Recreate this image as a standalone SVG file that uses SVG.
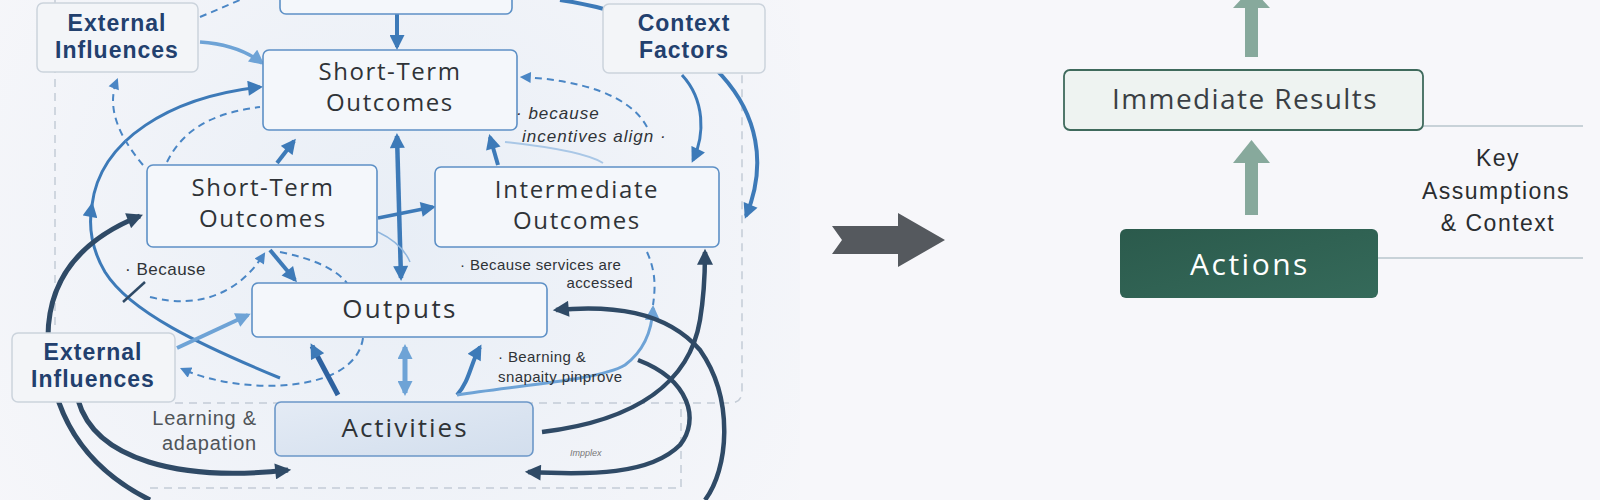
<svg xmlns="http://www.w3.org/2000/svg" width="1600" height="500" viewBox="0 0 1600 500">
<defs>
<style>
.n rect{fill:#f4f7fb;stroke:#5d90c6;stroke-width:1.6}
.g rect{fill:#f3f5f8;stroke:#cbd3dc;stroke-width:1.5}
.t{font-family:"Open Sans","Liberation Sans",sans-serif;fill:#2f3337;font-size:24px;letter-spacing:1.6px;text-anchor:middle}
.b{font-family:"Liberation Sans",Arial,sans-serif;fill:#22406e;font-size:23px;font-weight:bold;letter-spacing:1px;text-anchor:middle}
.s{font-family:"Liberation Sans",Arial,sans-serif;fill:#2f3337;font-size:16px}
.c path{fill:none}
.bl{stroke:#3d7ab8}
.lt{stroke:#6ea3d6}
.dk{stroke:#2f4a66}
.ds{stroke:#4a86c5;stroke-width:2;stroke-dasharray:7 5}
</style>
<radialGradient id="bg" cx="400" cy="240" r="520" gradientUnits="userSpaceOnUse">
<stop offset="0" stop-color="#e8eef6"/><stop offset="1" stop-color="#f7f7fa"/>
</radialGradient>
<linearGradient id="act" x1="0" y1="0" x2="1" y2="1">
<stop offset="0" stop-color="#e4ebf5"/><stop offset="1" stop-color="#d2deed"/>
</linearGradient>
<linearGradient id="actn" x1="0" y1="0" x2="1" y2="1">
<stop offset="0" stop-color="#2b5a4c"/><stop offset="1" stop-color="#356a5a"/>
</linearGradient>
<marker id="ab" viewBox="0 0 10 10" refX="8" refY="5" markerWidth="16" markerHeight="15" markerUnits="userSpaceOnUse" orient="auto-start-reverse"><path d="M0,0 L10,5 L0,10 Z" fill="#3d7ab8"/></marker>
<marker id="al" viewBox="0 0 10 10" refX="8" refY="5" markerWidth="16" markerHeight="15" markerUnits="userSpaceOnUse" orient="auto-start-reverse"><path d="M0,0 L10,5 L0,10 Z" fill="#6ea3d6"/></marker>
<marker id="ad" viewBox="0 0 10 10" refX="8" refY="5" markerWidth="18" markerHeight="16" markerUnits="userSpaceOnUse" orient="auto-start-reverse"><path d="M0,0 L10,5 L0,10 Z" fill="#2f4a66"/></marker>
<marker id="as" viewBox="0 0 10 10" refX="8" refY="5" markerWidth="12" markerHeight="11" markerUnits="userSpaceOnUse" orient="auto"><path d="M0,0 L10,5 L0,10 Z" fill="#4a86c5"/></marker>
</defs>
<rect width="1600" height="500" fill="#f7f7fa"/>
<rect x="0" y="0" width="800" height="500" fill="url(#bg)"/>

<g id="frames" fill="none" stroke="#c4ccd6" stroke-width="1.5" stroke-dasharray="8 6">
<path d="M55 -5 L55 330"/>
<path d="M175 403 L730 403 Q742 403 742 391 L742 -5"/>
<path d="M150 488 L681 488 L681 407"/>
</g>

<g id="connectors" class="c">
<path class="bl" stroke-width="4" d="M397 14 L397 47" marker-end="url(#ab)"/>
<path class="lt" stroke-width="3.5" d="M200 42 C230 44 248 52 262 63" marker-end="url(#al)"/>
<path class="bl" stroke-width="3" d="M280 378 C200 345 130 312 105 272 C92 250 88 228 92 205" marker-end="url(#ab)"/>
<path class="bl" stroke-width="3" d="M92 205 C100 140 170 97 260 87" marker-end="url(#ab)"/>
<path class="ds" d="M143 165 C122 140 105 110 117 80" marker-end="url(#as)"/>
<path class="ds" d="M167 162 C185 125 220 112 260 107"/>
<path class="bl" stroke-width="4" d="M277 163 L294 141" marker-end="url(#ab)"/>
<path class="bl" stroke-width="4.5" d="M401 278 L397 136" marker-start="url(#ab)" marker-end="url(#ab)"/>
<path class="bl" stroke-width="3.5" d="M378 218 L433 207" marker-end="url(#ab)"/>
<path class="bl" stroke-width="4" d="M498 165 L490 137" marker-end="url(#ab)"/>
<path class="bl" stroke-width="4" d="M270 250 L295 280" marker-end="url(#ab)"/>
<path class="ds" d="M150 297 C200 310 240 292 264 254" marker-end="url(#as)"/>
<path class="ds" d="M280 252 C310 258 335 268 347 283"/>
<path class="ds" d="M647 127 C630 95 580 80 522 77" marker-end="url(#as)"/>
<path stroke="#a9c7e6" stroke-width="2" d="M505 142 C560 148 590 155 603 163"/>
<path stroke="#8fb6de" stroke-width="1.5" d="M378 232 C395 240 405 250 410 262"/>
<path class="bl" stroke-width="3" d="M682 75 C705 100 705 135 693 160" marker-end="url(#ab)"/>
<path class="bl" stroke-width="4" d="M560 0 C700 20 790 110 746 216" marker-end="url(#ab)"/>
<path class="ds" d="M200 17 L240 0"/>
<path class="lt" stroke-width="4" d="M177 348 L248 315" marker-end="url(#al)"/>
<path class="ds" d="M363 338 C355 395 240 395 182 369" marker-end="url(#as)"/>
<path stroke="#2e62a0" stroke-width="5" d="M338 395 L312 346" marker-end="url(#ab)"/>
<path class="lt" stroke-width="5" d="M405 347 L405 393" marker-start="url(#al)" marker-end="url(#al)"/>
<path class="bl" stroke-width="4" d="M457 395 C470 380 470 365 480 347" marker-end="url(#ab)"/>
<path class="lt" stroke-width="3" d="M457 395 C520 385 600 380 625 365 C645 350 652 330 653 308" marker-end="url(#al)"/>
<path class="ds" d="M647 252 C655 270 656 285 653 305"/>
<path class="dk" stroke-width="4.5" d="M542 432 C640 420 690 380 700 320 C705 290 705 270 705 252" marker-end="url(#ad)"/>
<path class="dk" stroke-width="4.5" d="M705 500 C728 470 735 400 700 350 C665 310 610 305 556 310" marker-end="url(#ad)"/>
<path class="dk" stroke-width="4.5" d="M638 360 C690 380 700 420 680 445 C650 475 590 475 528 472" marker-end="url(#ad)"/>
<path class="dk" stroke-width="5" d="M150 500 C90 470 50 420 48 340 C47 280 80 240 140 216" marker-end="url(#ad)"/>
<path class="dk" stroke-width="5" d="M78 400 C95 460 180 482 288 470" marker-end="url(#ad)"/>
<path class="dk" stroke-width="2.5" d="M123 302 L145 282"/>
<path d="M393 471 L406 463 L401 473 Z" fill="#6ea3d6" stroke="none"/>
</g>

<g id="top-box" class="n"><rect x="280" y="-8" width="232" height="22" rx="6"/></g>
<g id="short-term-top" class="n"><rect x="263" y="50" width="254" height="80" rx="6"/>
<text class="t" x="390" y="80">Short-Term</text><text class="t" x="390" y="111">Outcomes</text></g>
<g id="external-top" class="g"><rect x="37" y="3" width="161" height="69" rx="6"/>
<text class="b" x="117" y="31">External</text><text class="b" x="117" y="58">Influences</text></g>
<g id="context" class="g"><rect x="603" y="4" width="162" height="69" rx="6"/>
<text class="b" x="684" y="31">Context</text><text class="b" x="684" y="58">Factors</text></g>
<g id="short-term-left" class="n"><rect x="147" y="165" width="230" height="82" rx="6"/>
<text class="t" x="263" y="196">Short-Term</text><text class="t" x="263" y="227">Outcomes</text></g>
<g id="intermediate" class="n"><rect x="435" y="167" width="284" height="80" rx="6"/>
<text class="t" x="577" y="198">Intermediate</text><text class="t" x="577" y="229">Outcomes</text></g>
<g id="outputs" class="n"><rect x="252" y="283" width="295" height="54" rx="6"/>
<text class="t" x="400" y="318" style="font-size:26px;letter-spacing:2.4px">Outputs</text></g>
<g id="external-low" class="g"><rect x="12" y="333" width="163" height="69" rx="6"/>
<text class="b" x="93" y="360">External</text><text class="b" x="93" y="387">Influences</text></g>
<g id="activities"><rect x="275" y="402" width="258" height="54" rx="6" fill="url(#act)" stroke="#6b97c8" stroke-width="1.6"/>
<text class="t" x="405" y="437" style="font-size:26px;letter-spacing:2px">Activities</text></g>

<g id="labels">
<text class="s" x="257" y="425" text-anchor="end" style="font-size:20px;fill:#4f5458;letter-spacing:0.8px">Learning &amp;</text>
<text class="s" x="257" y="450" text-anchor="end" style="font-size:20px;fill:#4f5458;letter-spacing:0.8px">adapation</text>
<text class="s" x="125" y="275" style="font-size:17px;letter-spacing:0.5px">· Because</text>
<text class="s" x="516" y="119" style="font-style:italic;font-size:17px;letter-spacing:1px">· because</text>
<text class="s" x="522" y="142" style="font-style:italic;font-size:17px;letter-spacing:1px">incentives align ·</text>
<text class="s" x="460" y="270" style="font-size:15px;letter-spacing:0.4px">· Because services are</text>
<text class="s" x="633" y="288" text-anchor="end" style="font-size:15px;letter-spacing:0.4px">accessed</text>
<text class="s" x="498" y="362" style="font-size:15px;letter-spacing:0.4px">· Bearning &amp;</text>
<text class="s" x="498" y="382" style="font-size:15px;letter-spacing:0.4px">snapaity pinprove</text>
<text class="s" x="570" y="456" style="font-size:9px;font-style:italic;fill:#777">Impplex</text>
</g>

<g id="big-arrow"><path d="M832 226 L898 226 L898 213 L945 240 L898 267 L898 254 L832 254 L842 240 Z" fill="#55595e"/></g>

<g id="right-connectors" fill="#87a99c">
<rect x="1245" y="8" width="13" height="49"/><path d="M1233 8 L1251.5 -12 L1270 8 Z"/>
<rect x="1245" y="162" width="13" height="53"/><path d="M1233 163 L1251.5 140 L1270 163 Z"/>
<path d="M1423 126 L1583 126 M1378 258 L1583 258" stroke="#c8d2d8" stroke-width="2" fill="none"/>
</g>
<g id="immediate"><rect x="1064" y="70" width="359" height="60" rx="6" fill="#eef3f1" stroke="#3f6a5c" stroke-width="1.8"/>
<text x="1245" y="109" text-anchor="middle" style="font-family:'Open Sans','Liberation Sans',sans-serif;font-size:28px;fill:#3a3f44;letter-spacing:1.4px">Immediate Results</text></g>
<g id="actions"><rect x="1120" y="229" width="258" height="69" rx="6" fill="url(#actn)"/>
<text x="1250" y="275" text-anchor="middle" style="font-family:'Open Sans','Liberation Sans',sans-serif;font-size:30px;fill:#ffffff;letter-spacing:2.5px">Actions</text></g>
<g id="key-text" style="font-family:'Liberation Sans',Arial,sans-serif;font-size:23px;fill:#2a2d30;letter-spacing:1.5px" text-anchor="middle">
<text x="1498" y="166">Key</text><text x="1496" y="199">Assumptions</text><text x="1498" y="231">&amp; Context</text></g>
</svg>
